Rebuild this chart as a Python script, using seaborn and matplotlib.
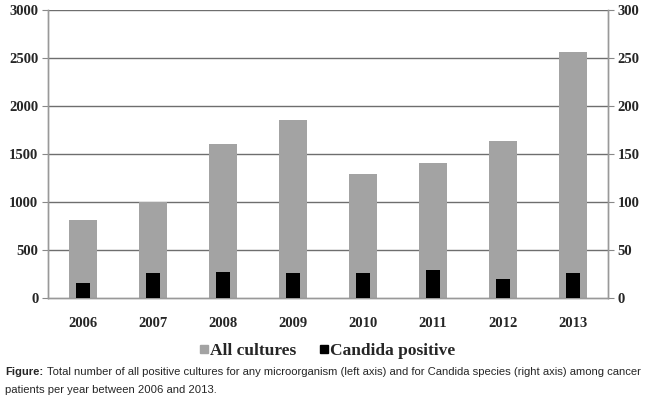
import numpy as np
import pandas as pd
import seaborn as sns
import matplotlib.pyplot as plt
from matplotlib.lines import Line2D

years = ['2006', '2007', '2008', '2009', '2010', '2011', '2012', '2013']
all_cultures = [810, 1000, 1600, 1850, 1290, 1410, 1640, 2560]
candida_positive = [16, 26, 27, 26, 26, 29, 20, 26]

left_ticks = [0, 500, 1000, 1500, 2000, 2500, 3000]
right_ticks = [0, 50, 100, 150, 200, 250, 300]

caption_1 = ('Total number of all positive cultures for any microorganism '
             '(left axis) and for Candida species (right axis) among cancer')
caption_2 = 'patients per year between 2006 and 2013.'

df = pd.DataFrame({'year': years, 'all': all_cultures, 'candida': candida_positive})

sns.set_style('white')
plt.rcParams['font.family'] = ['Liberation Serif', 'DejaVu Serif']

fig = plt.figure(figsize=(6.5, 4), dpi=100)
ax = fig.add_axes([0.074, 0.255, 0.861, 0.72])
ax2 = ax.twinx()

sns.barplot(data=df, x='year', y='all', color='#a3a3a3', width=0.4,
            saturation=1, linewidth=0, ax=ax, zorder=2)
sns.barplot(data=df, x='year', y='candida', color='black', width=0.2,
            saturation=1, linewidth=0, ax=ax2, zorder=3)

ax.set_ylim(0, 3000)
ax2.set_ylim(0, 300)
ax.set_xlim(-0.5, 7.5)
ax.set_yticks(left_ticks)
ax2.set_yticks(right_ticks)
ax.set_xlabel('')
ax.set_ylabel('')
ax2.set_ylabel('')

for y in left_ticks[1:]:
    ax.axhline(y, color='#6e6e6e', lw=1, zorder=1)

# category ticks on the boundaries
ax.set_xticks(np.arange(-0.5, 8, 1), minor=True)
ax.tick_params(axis='x', which='minor', length=4, color='#888888', direction='out')
ax.tick_params(axis='x', which='major', length=0, pad=14)
ax.tick_params(axis='y', length=4, color='#888888', direction='out', pad=3)
ax2.tick_params(axis='y', length=4, color='#888888', direction='out', pad=3)

for a in (ax, ax2):
    for lab in a.get_xticklabels() + a.get_yticklabels():
        lab.set_fontweight('bold')
        lab.set_fontsize(10.5)
    for side in ('left', 'right', 'bottom'):
        a.spines[side].set_color('#999999')
        a.spines[side].set_linewidth(1)
    a.spines['top'].set_visible(False)
ax2.set_zorder(ax.get_zorder() + 1)
ax2.patch.set_visible(False)

handles = [
    Line2D([], [], marker='s', ls='', color='#a3a3a3', markersize=6),
    Line2D([], [], marker='s', ls='', color='black', markersize=6),
]
fig.legend(handles, ['All cultures', 'Candida positive'], loc='center',
           bbox_to_anchor=(0.503, 0.122), ncol=2, frameon=False,
           prop={'weight': 'bold', 'size': 12.5}, handletextpad=0.05,
           columnspacing=1.3, handlelength=0.6)

# caption: bold "Figure:" followed by the text, sized to span the width
cap = ['Liberation Sans', 'DejaVu Sans']
r = fig.canvas.get_renderer()
size = 8.0
t0 = fig.text(5 / 650, 0.07, 'Figure:', family=cap, fontweight='bold',
              fontsize=size, va='center', ha='left')
t1 = fig.text(0, 0.07, caption_1, family=cap, fontsize=size, va='center', ha='left')
total = t0.get_window_extent(r).width + 4 + t1.get_window_extent(r).width
size = size * 640 / total
t0.set_fontsize(size)
t1.set_fontsize(size)
t1.set_x((t0.get_window_extent(r).x1 + 4) / 650)
fig.text(5 / 650, 0.025, caption_2, family=cap, fontsize=size, va='center', ha='left')

fig.savefig('out.png', dpi=100)
